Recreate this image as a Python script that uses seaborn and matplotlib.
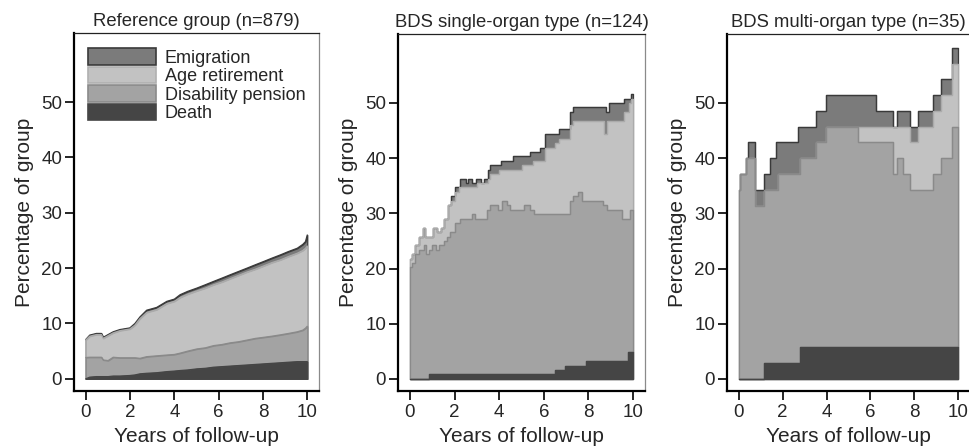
import numpy as np
import pandas as pd
import matplotlib
matplotlib.use("Agg")
import matplotlib.pyplot as plt
from matplotlib.patches import Patch
import seaborn as sns

# ---------------- data (cumulative percentages) ----------------
titles = ["Reference group (n=879)", "BDS single-organ type (n=124)", "BDS multi-organ type (n=35)"]
categories = ["Emigration", "Age retirement", "Disability pension", "Death"]
x_ticks = [0, 2, 4, 6, 8, 10]
y_ticks = [0, 10, 20, 30, 40, 50]

# Reference group (shared time grid)
ref_t = [0, 0.18, 0.48, 0.71, 0.79, 1.01, 1.24, 1.54, 1.99, 2.22, 2.45, 2.75, 3.2, 3.66, 4.0, 4.26,
         4.6, 5.02, 5.4, 5.77, 6.15, 6.52, 6.9, 7.28, 7.65, 8.03, 8.4, 8.79, 9.15, 9.55, 9.8, 9.92, 10.0]
ref_total = [7.1, 7.9, 8.2, 8.2, 7.5, 8.0, 8.5, 8.9, 9.2, 10.0, 11.2, 12.4, 12.9, 14.0, 14.4, 15.2,
             15.8, 16.4, 17.0, 17.6, 18.2, 18.8, 19.4, 20.0, 20.6, 21.2, 21.8, 22.4, 23.0, 23.6, 24.3, 24.8, 26.0]
ref_ar = [7.0, 7.7, 8.0, 8.0, 7.3, 7.8, 8.3, 8.7, 9.0, 9.7, 10.9, 12.0, 12.5, 13.6, 14.0, 14.7,
          15.3, 15.9, 16.4, 17.0, 17.5, 18.1, 18.7, 19.3, 19.8, 20.4, 21.0, 21.5, 22.1, 22.7, 23.2, 23.6, 24.0]
ref_dp = [3.85, 3.9, 3.9, 3.9, 3.4, 3.3, 3.9, 3.8, 3.8, 3.8, 3.7, 4.0, 4.15, 4.3, 4.4, 4.64,
          5.0, 5.4, 5.6, 6.0, 6.2, 6.5, 6.7, 7.0, 7.3, 7.5, 7.7, 7.95, 8.2, 8.5, 8.8, 9.15, 9.5]
ref_death = [0.0, 0.3, 0.4, 0.4, 0.4, 0.4, 0.5, 0.5, 0.6, 0.7, 0.9, 1.0, 1.1, 1.3, 1.4, 1.5,
             1.6, 1.8, 1.9, 2.1, 2.2, 2.3, 2.4, 2.5, 2.6, 2.7, 2.8, 2.9, 3.0, 3.1, 3.1, 3.1, 3.1]

# BDS single-organ type (step functions, each with its own times)
sgl_tot_t = [0, 0.1, 0.25, 0.4, 0.6, 0.7, 1.05, 1.2, 1.4, 1.55, 1.7, 1.85, 2.04, 2.26, 2.5, 2.6, 2.8,
             2.95, 3.2, 3.3, 3.5, 3.6, 4.1, 4.6, 5.4, 5.83, 6.05, 6.7, 7.15, 7.3, 8.78, 8.93, 9.6, 9.9, 10.0]
sgl_tot = [21.8, 22.6, 24.2, 25.8, 27.4, 25.8, 27.4, 26.6, 27.4, 29.0, 31.5, 33.1, 34.7, 36.3, 35.5, 36.3, 35.5,
           36.3, 35.5, 36.3, 37.9, 38.7, 39.5, 40.3, 41.1, 41.9, 44.4, 45.2, 48.4, 49.2, 48.4, 50.0, 50.8, 51.6, 51.6]
sgl_ar_t = [0, 0.1, 0.25, 0.4, 0.6, 0.7, 1.05, 1.2, 1.4, 1.55, 1.7, 1.85, 2.0, 2.2, 3.0, 3.5, 3.6, 4.0,
            5.0, 5.5, 6.05, 6.5, 6.7, 7.15, 7.3, 8.7, 8.85, 9.6, 9.8, 9.9, 10.0]
sgl_ar = [21.8, 22.6, 24.2, 25.8, 27.4, 25.8, 27.4, 26.6, 27.4, 29.0, 31.5, 32.3, 33.9, 34.7, 35.5, 36.3, 37.1, 37.9,
          38.7, 39.5, 41.9, 42.7, 43.5, 46.0, 46.8, 44.4, 46.8, 48.4, 50.0, 50.8, 50.8]
sgl_dp_t = [0, 0.1, 0.25, 0.4, 0.63, 0.74, 0.85, 1.0, 1.15, 1.3, 1.52, 1.67, 1.82, 2.04, 2.26, 2.78, 2.93,
            3.45, 3.6, 3.97, 4.12, 4.35, 4.5, 5.09, 5.39, 5.54, 7.17, 7.32, 7.54, 7.7, 8.66, 8.81, 9.48, 9.85, 10.0]
sgl_dp = [20.2, 21.0, 22.6, 23.4, 24.2, 22.6, 23.4, 24.2, 23.4, 24.2, 25.0, 25.8, 26.6, 28.2, 29.0, 29.8, 29.0,
          30.6, 31.5, 30.6, 32.3, 31.5, 30.6, 31.5, 30.6, 29.8, 32.3, 33.1, 33.9, 32.3, 31.5, 30.6, 29.0, 30.6, 30.6]
sgl_death_t = [0, 0.85, 6.5, 6.95, 7.9, 9.78, 10.0]
sgl_death = [0.0, 0.8, 1.6, 2.4, 3.2, 4.8, 4.8]

# BDS multi-organ type (shared step times)
mlt_t = [0, 0.06, 0.33, 0.44, 0.74, 1.16, 1.42, 1.72, 1.80, 2.71, 2.78, 3.54, 3.96, 5.43, 6.26,
         7.02, 7.22, 7.47, 7.78, 8.15, 8.83, 9.21, 9.70, 10.0]
mlt_tot = [34.3, 37.1, 40.0, 42.9, 34.3, 37.1, 40.0, 42.9, 42.9, 45.7, 45.7, 48.6, 51.4, 51.4, 48.6,
           45.7, 48.6, 48.6, 45.7, 48.6, 51.4, 54.3, 60.0, 60.0]
mlt_ar = [34.3, 37.1, 40.0, 40.0, 31.4, 34.3, 34.3, 34.3, 37.1, 37.1, 40.0, 42.9, 45.7, 45.7, 45.7,
          45.7, 45.7, 45.7, 42.9, 45.7, 48.6, 51.4, 57.1, 57.1]
mlt_dp = [34.3, 37.1, 40.0, 40.0, 31.4, 34.3, 34.3, 34.3, 37.1, 37.1, 40.0, 42.9, 45.7, 42.9, 42.9,
          37.1, 40.0, 37.1, 34.3, 34.3, 37.1, 40.0, 45.7, 45.7]
mlt_death = [0, 0, 0, 0, 0, 2.9, 2.9, 2.9, 2.9, 2.9, 5.7, 5.7, 5.7, 5.7, 5.7,
             5.7, 5.7, 5.7, 5.7, 5.7, 5.7, 5.7, 5.7, 5.7]

# ---------------- style ----------------
fills = {"Emigration": "#7b7b7b", "Age retirement": "#c2c2c2",
         "Disability pension": "#a3a3a3", "Death": "#454545"}
edges = {"Emigration": "#3a3a3a", "Age retirement": "#ababab",
         "Disability pension": "#8a8a8a", "Death": "#454545"}

sns.set_style("ticks")
plt.rcParams["font.family"] = ["Liberation Sans", "DejaVu Sans"]

fig = plt.figure(figsize=(9.7, 4.48), dpi=100)
W, H = 970.0, 448.0
boxes = [(74, 33, 245, 358), (398, 34, 247, 357), (727, 34, 243, 357)]
axes = [fig.add_axes([l / W, 1 - (t + h) / H, w / W, h / H]) for (l, t, w, h) in boxes]

panels = [
    [("Emigration", ref_t, ref_total), ("Age retirement", ref_t, ref_ar),
     ("Disability pension", ref_t, ref_dp), ("Death", ref_t, ref_death)],
    [("Emigration", sgl_tot_t, sgl_tot), ("Age retirement", sgl_ar_t, sgl_ar),
     ("Disability pension", sgl_dp_t, sgl_dp), ("Death", sgl_death_t, sgl_death)],
    [("Emigration", mlt_t, mlt_tot), ("Age retirement", mlt_t, mlt_ar),
     ("Disability pension", mlt_t, mlt_dp), ("Death", mlt_t, mlt_death)],
]
steps = [None, "post", "post"]

for ax, layers, title, step in zip(axes, panels, titles, steps):
    for name, t, v in layers:
        df = pd.DataFrame({"t": t, "v": v})
        ax.fill_between(df["t"], 0, df["v"], step=step, facecolor=fills[name],
                        edgecolor=edges[name], linewidth=0.9, zorder=2)
        sns.lineplot(data=df, x="t", y="v", ax=ax, color=edges[name], linewidth=0.9,
                     estimator=None, sort=False,
                     drawstyle="steps-post" if step else "default", zorder=3)
    ax.set_xlim(-0.53, 10.53)
    ax.set_ylim(-2.2, 62.5)
    ax.set_xticks(x_ticks)
    ax.set_yticks(y_ticks)
    ax.tick_params(axis="both", labelsize=13.5, length=6.5, width=1.2, color="black",
                   direction="out")
    ax.tick_params(axis="y", pad=2)
    ax.tick_params(axis="x", pad=3)
    ax.set_xlabel("Years of follow-up", fontsize=15, labelpad=4)
    ax.set_ylabel("Percentage of group", fontsize=15, labelpad=5)
    ax.set_title(title, fontsize=13.3, pad=5)
    for s in ["left", "bottom"]:
        ax.spines[s].set_linewidth(1.6)
        ax.spines[s].set_color("black")
    ax.spines["top"].set_visible(True)
    ax.spines["top"].set_linewidth(0.9)
    ax.spines["top"].set_color("#222222")
    ax.spines["right"].set_visible(True)
    ax.spines["right"].set_linewidth(0.9)
    ax.spines["right"].set_color("#8a8a8a")

handles = [Patch(facecolor=fills[c], edgecolor=edges[c] if c != "Age retirement" else "#b0b0b0",
                 linewidth=1.2) for c in categories]
axes[0].legend(handles, categories, loc="upper left", bbox_to_anchor=(0.057, 0.958),
               frameon=False, fontsize=13, handlelength=3.75, handleheight=1.05,
               handletextpad=0.5, labelspacing=0.0, borderpad=0, borderaxespad=0)

fig.savefig("out.png", dpi=100)
